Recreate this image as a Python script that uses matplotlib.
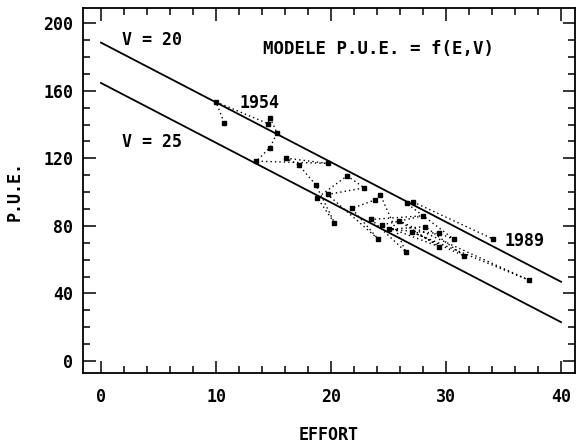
import matplotlib
matplotlib.use("Agg")
import matplotlib.pyplot as plt
import numpy as np
from matplotlib.ticker import MultipleLocator

years = list(range(1954, 1990))
effort = [10.7, 10.0, 14.5, 14.7, 15.3, 14.7, 13.5, 19.7, 16.1, 17.2,
          18.7, 20.3, 18.8, 21.4, 22.9, 19.7, 24.1, 21.8, 23.8, 24.3,
          26.5, 23.5, 28.0, 24.4, 29.4, 25.9, 37.2, 27.0, 31.6, 28.2,
          25.0, 29.4, 30.7, 26.6, 27.1, 34.1]
pue = [141.2, 153.4, 140.6, 144.1, 135.1, 126.4, 118.3, 117.0, 120.1, 116.0,
       104.1, 81.8, 96.6, 109.6, 102.5, 98.6, 72.2, 90.3, 95.3, 98.2,
       64.7, 83.8, 86.0, 80.5, 67.7, 83.0, 47.9, 76.5, 62.1, 79.5,
       78.0, 75.5, 72.0, 93.3, 94.3, 72.2]

# model P.U.E. = f(E, V): two parallel lines
model_v = [20, 25]
model_intercept = [188.5, 164.6]
model_slope = -3.54
model_e = [0, 40]

plt.rcParams["font.family"] = ["DejaVu Sans Mono", "DejaVu Sans"]
plt.rcParams["font.weight"] = "bold"
FS = 12

fig = plt.figure(figsize=(5.76, 4.46), dpi=100)
ax = fig.add_axes([0.144, 0.1637, 0.854, 0.818])

for v, b in zip(model_v, model_intercept):
    xs = np.array(model_e, dtype=float)
    ax.plot(xs, b + model_slope * xs, color="black", lw=1.3)

ax.plot(effort, pue, color="black", lw=1.0, ls=(0, (1, 2.2)))
ax.plot(effort, pue, ls="none", marker="s", ms=3, color="black")

ax.text(1.8, 190, "V = 20", fontsize=FS, fontweight="bold", va="center")
ax.text(1.8, 129.5, "V = 25", fontsize=FS, fontweight="bold", va="center")
ax.text(14.1, 184.6, "MODELE P.U.E. = f(E,V)", fontsize=FS + 0.5,
        fontweight="bold", va="center")
ax.text(12.0, 152.5, str(years[0]), fontsize=FS, fontweight="bold", va="center")
ax.text(35.1, 71.0, str(years[-1]), fontsize=FS, fontweight="bold", va="center")

ax.set_xlim(-1.57, 41.2)
ax.set_ylim(-7.1, 208.9)
ax.xaxis.set_major_locator(MultipleLocator(10))
ax.xaxis.set_minor_locator(MultipleLocator(2))
ax.yaxis.set_major_locator(MultipleLocator(40))
ax.yaxis.set_minor_locator(MultipleLocator(10))
ax.tick_params(which="both", direction="in", top=True, right=True,
               width=1.1, labelsize=FS)
ax.tick_params(which="major", length=9)
ax.tick_params(which="minor", length=5)
ax.tick_params(axis="x", which="major", pad=11)
ax.tick_params(axis="y", which="major", pad=7)
for s in ax.spines.values():
    s.set_linewidth(1.3)

ax.set_xlabel("EFFORT", fontsize=FS, fontweight="bold", labelpad=14)
ax.set_ylabel("P.U.E.", fontsize=FS, fontweight="bold", labelpad=14)

fig.savefig("out.png", dpi=100)
